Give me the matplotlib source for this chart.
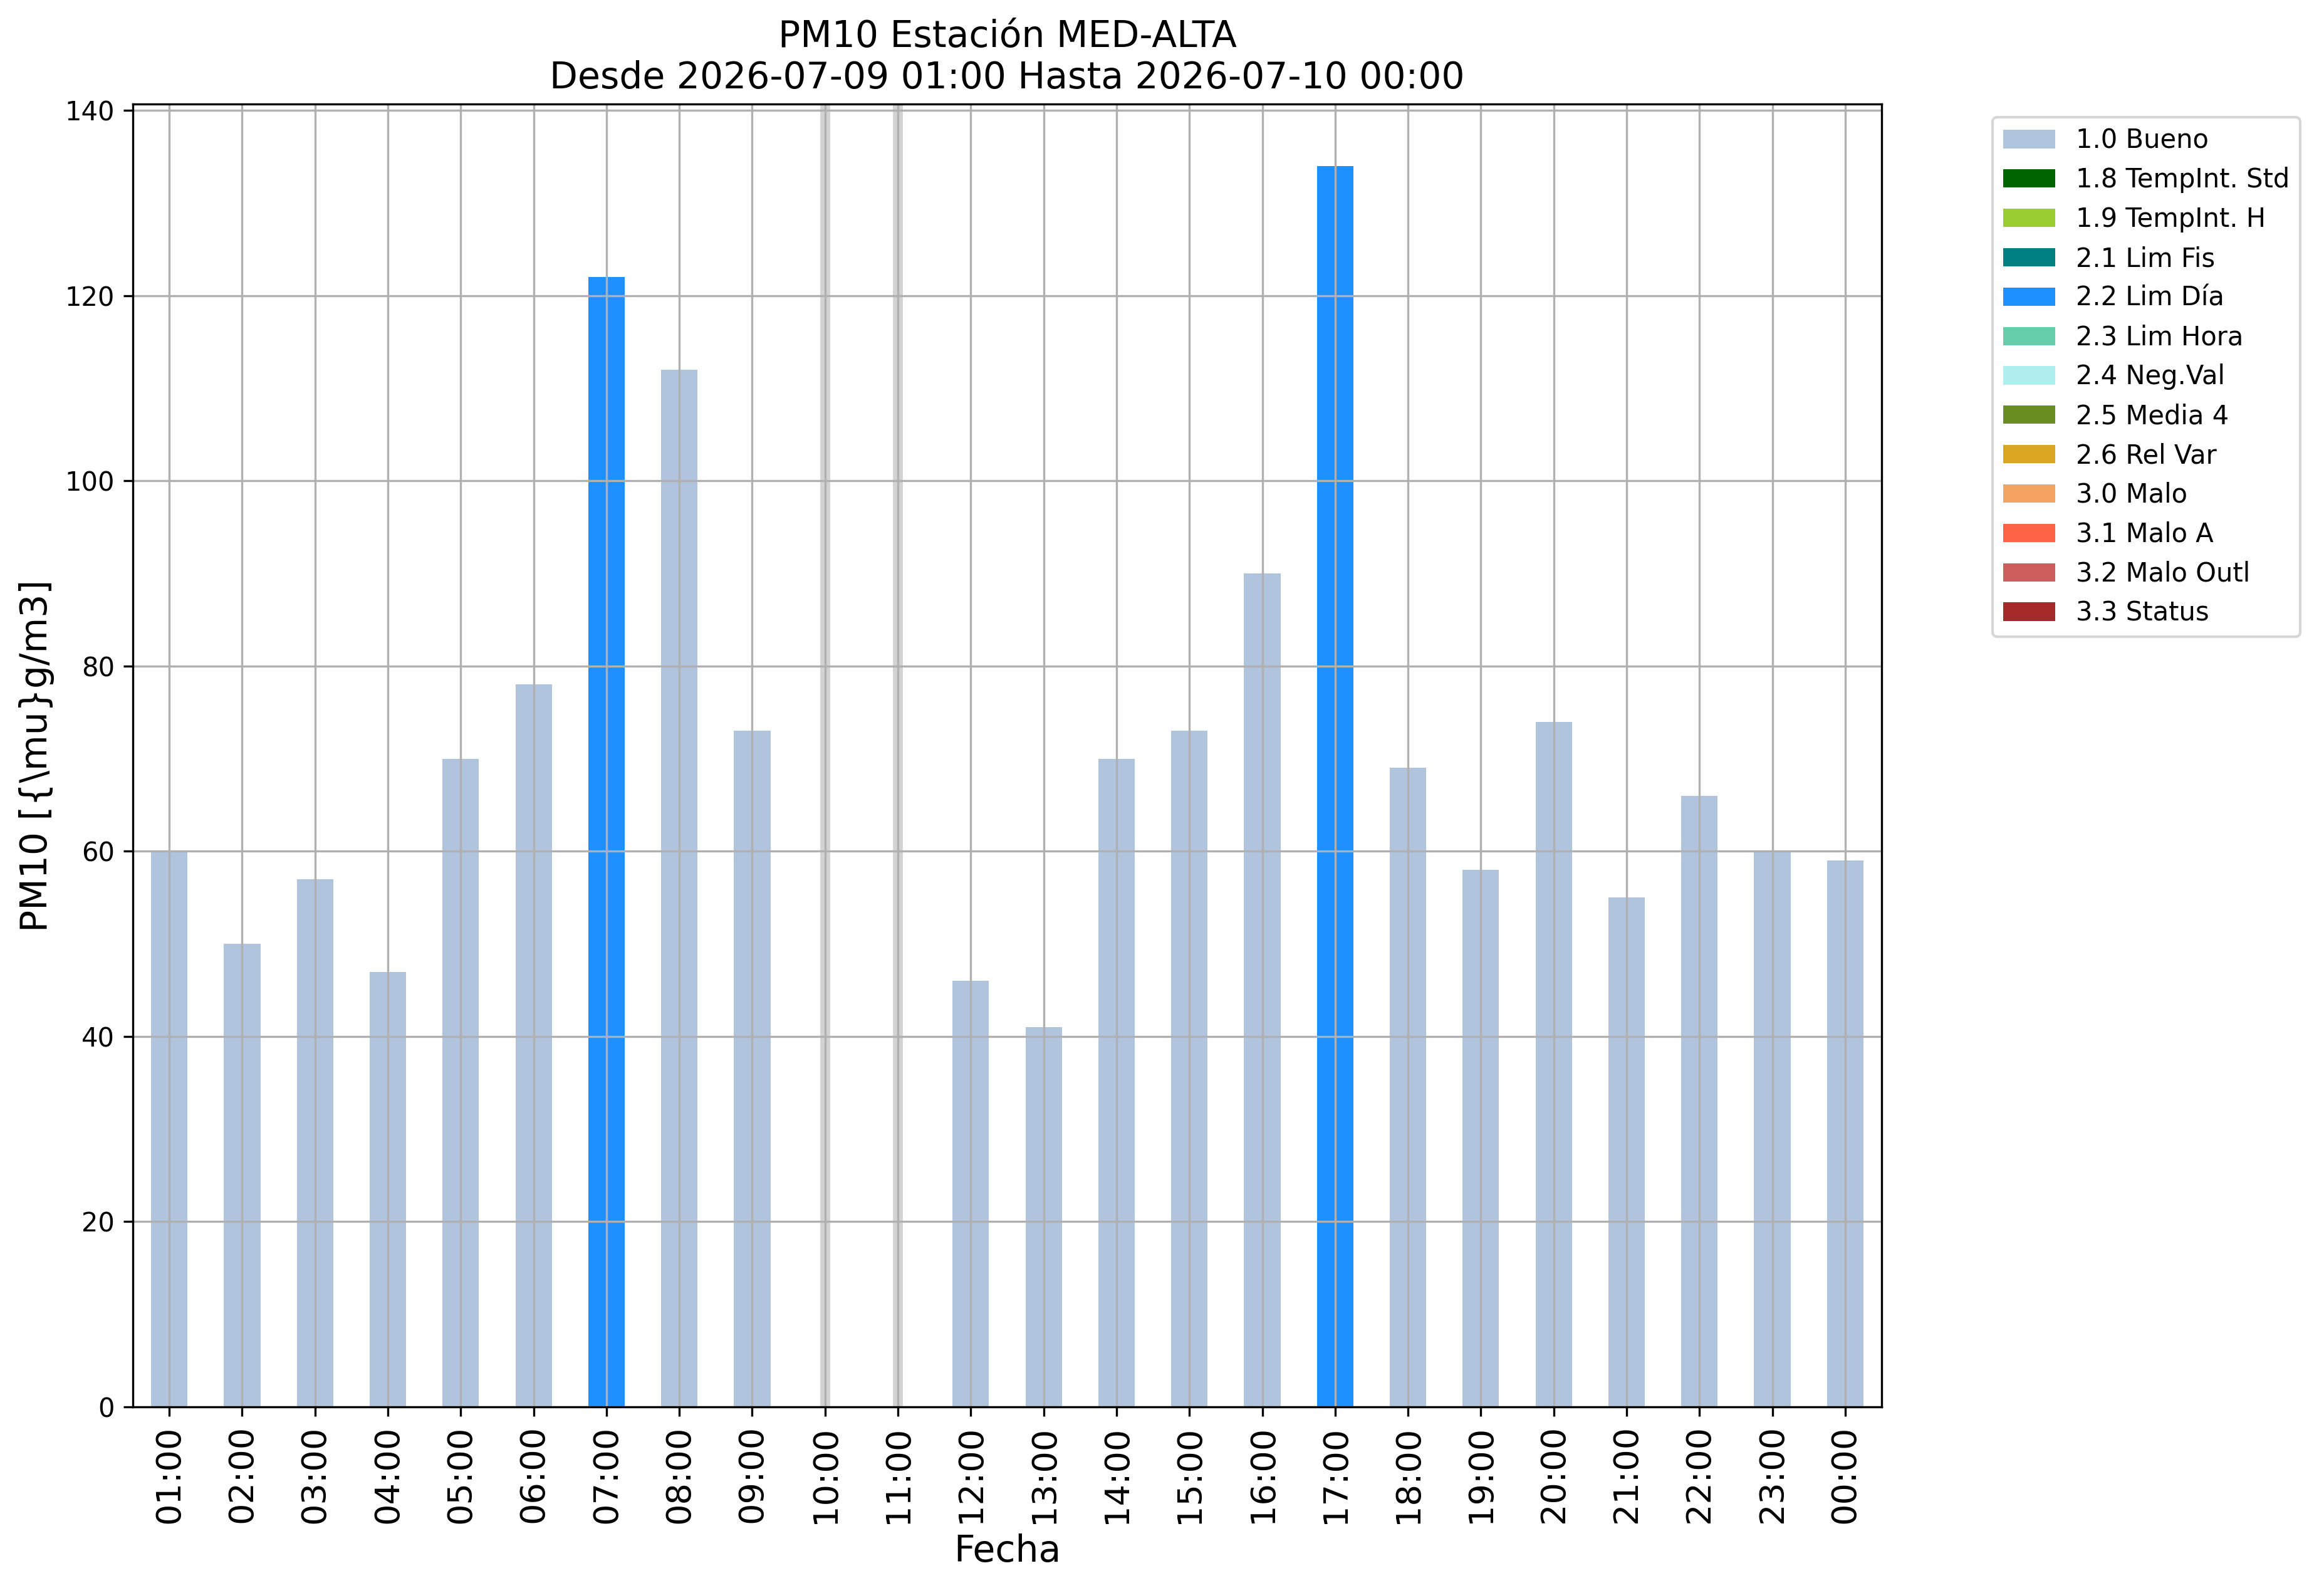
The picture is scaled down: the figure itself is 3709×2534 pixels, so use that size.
import numpy as np
import pandas as pd
import matplotlib
matplotlib.use('Agg')
import matplotlib.pyplot as plt

horas = ['01:00', '02:00', '03:00', '04:00', '05:00', '06:00', '07:00', '08:00',
         '09:00', '10:00', '11:00', '12:00', '13:00', '14:00', '15:00', '16:00',
         '17:00', '18:00', '19:00', '20:00', '21:00', '22:00', '23:00', '00:00']

# valores por hora (NaN = sin dato)
bueno = [60, 50, 57, 47, 70, 78, np.nan, 112, 73, np.nan, np.nan, 46, 41, 70,
         73, 90, np.nan, 69, 58, 74, 55, 66, 60, 59]
lim_dia = [np.nan, np.nan, np.nan, np.nan, np.nan, np.nan, 122, np.nan, np.nan,
           np.nan, np.nan, np.nan, np.nan, np.nan, np.nan, np.nan, 134, np.nan,
           np.nan, np.nan, np.nan, np.nan, np.nan, np.nan]
sin_dato = ['10:00', '11:00']

flags = ['1.0 Bueno', '1.8 TempInt. Std', '1.9 TempInt. H', '2.1 Lim Fis',
         '2.2 Lim Día', '2.3 Lim Hora', '2.4 Neg.Val', '2.5 Media 4',
         '2.6 Rel Var', '3.0 Malo', '3.1 Malo A', '3.2 Malo Outl', '3.3 Status']
colores = ['lightsteelblue', 'darkgreen', 'yellowgreen', 'teal', 'dodgerblue',
           'mediumaquamarine', 'paleturquoise', 'olivedrab', 'goldenrod',
           'sandybrown', 'tomato', 'indianred', 'brown']

df = pd.DataFrame(np.nan, index=horas, columns=flags)
df['1.0 Bueno'] = bueno
df['2.2 Lim Día'] = lim_dia

fig = plt.figure(figsize=(3709 / 300, 2534 / 300), dpi=300)
ax = fig.add_subplot(111)
fig.subplots_adjust(left=212 / 3709, right=3003 / 3709,
                    top=1 - 166 / 2534, bottom=1 - 2245 / 2534)

df.plot(kind='bar', stacked=True, color=colores, ax=ax, legend=False)

for h in sin_dato:
    ax.axvline(horas.index(h), color='lightgray', linewidth=3.8, zorder=1)

ax.grid(True)
ax.tick_params(axis='y', labelsize=10)
ax.tick_params(axis='x', labelsize=13)
ax.set_title('PM10 Estación MED-ALTA\nDesde 2026-07-09 01:00 Hasta 2026-07-10 00:00',
             fontsize=14)
ax.set_xlabel('Fecha', fontsize=14)
ax.set_ylabel(r'PM10 [{\mu}g/m3]', fontsize=14)
ax.legend(loc='upper left', bbox_to_anchor=(1.056, 1), fontsize=10)

fig.savefig('out.png', dpi=300)
